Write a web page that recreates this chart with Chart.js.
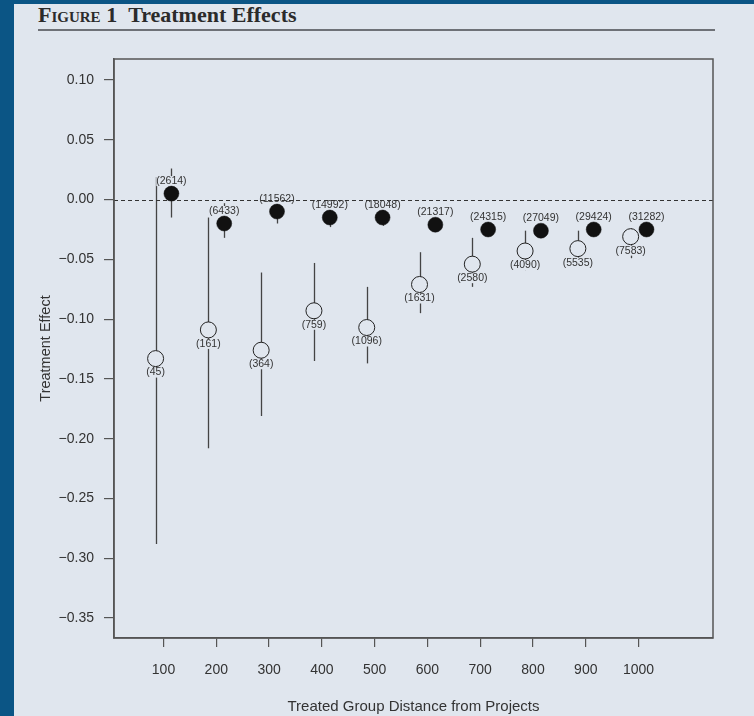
<!DOCTYPE html>
<html>
<head>
<meta charset="utf-8">
<script src="https://cdn.jsdelivr.net/npm/chart.js@4.4.1/dist/chart.umd.min.js"></script>
<style>
  html, body { margin: 0; padding: 0; }
  body { width: 754px; height: 716px; background: #0b5585; position: relative; overflow: hidden; }
  #panel { position: absolute; left: 14px; top: 4px; right: 0; bottom: 0; background: #e0e6ee; }
  #title { position: absolute; left: 38px; top: 2px; font-family: "Liberation Serif", "Times New Roman", serif; font-weight: bold; font-size: 22px; color: #2b2b2b; white-space: nowrap; }
  #title .sc { font-variant: small-caps; }
  #rule { position: absolute; left: 38px; top: 29px; width: 677px; height: 2px; background: #6e7177; }
  #wrap { position: absolute; left: 0; top: 0; width: 754px; height: 716px; }
</style>
</head>
<body>
<div id="panel"></div>
<div id="title"><span class="sc">Figure</span> 1&nbsp;&nbsp;Treatment Effects</div>
<div id="rule"></div>
<div id="wrap"><canvas id="effects" width="754" height="716"></canvas></div>
<script>
var distances = [100, 200, 300, 400, 500, 600, 700, 800, 900, 1000];

// open circles (small treated groups)
var openEffect = [-0.133, -0.109, -0.126, -0.093, -0.107, -0.071, -0.054, -0.043, -0.041, -0.031];
var openLow = [-0.288, -0.208, -0.181, -0.135, -0.137, -0.095, -0.073, -0.059, -0.056, -0.049];
var openHigh = [0.019, -0.015, -0.061, -0.053, -0.073, -0.044, -0.032, -0.026, -0.026, -0.024];
var openN = ['45', '161', '364', '759', '1096', '1631', '2580', '4090', '5535', '7583'];

// filled circles
var filledEffect = [0.005, -0.020, -0.010, -0.015, -0.015, -0.021, -0.025, -0.026, -0.025, -0.025];
var filledLow = [-0.015, -0.032, -0.020, -0.023, -0.022, -0.027, -0.030, -0.031, -0.030, -0.030];
var filledHigh = [0.026, -0.003, -0.002, -0.004, -0.004, -0.015, -0.019, -0.021, -0.020, -0.020];
var filledN = ['2614', '6433', '11562', '14992', '18048', '21317', '24315', '27049', '29424', '31282'];

var yTicks = [0.10, 0.05, 0.00, -0.05, -0.10, -0.15, -0.20, -0.25, -0.30, -0.35];

var panelColor = '#e0e6ee';
var dodge = 15;

Chart.defaults.font.family = '"Liberation Sans", Arial, sans-serif';
Chart.defaults.color = '#333';

var openPts = distances.map(function(d, i) { return {x: d - dodge, y: openEffect[i]}; });
var filledPts = distances.map(function(d, i) { return {x: d + dodge, y: filledEffect[i]}; });

var extras = {
    id: 'extras',
    beforeDatasetsDraw: function(chart) {
        var ctx = chart.ctx, xs = chart.scales.x, ys = chart.scales.y, area = chart.chartArea;
        ctx.save();
        // confidence bars
        ctx.strokeStyle = '#444';
        ctx.lineWidth = 1.3;
        function bar(x, lo, hi) {
            var px = Math.round(xs.getPixelForValue(x)) + 0.5;
            ctx.beginPath();
            ctx.moveTo(px, ys.getPixelForValue(hi));
            ctx.lineTo(px, ys.getPixelForValue(lo));
            ctx.stroke();
        }
        distances.forEach(function(d, i) {
            bar(d - dodge, openLow[i], openHigh[i]);
            bar(d + dodge, filledLow[i], filledHigh[i]);
        });

        // count labels with a gap cut out of the bars
        ctx.font = '10.5px "Liberation Sans", Arial, sans-serif';
        ctx.textAlign = 'center';
        ctx.textBaseline = 'middle';
        var labels = [];
        distances.forEach(function(d, i) {
            labels.push({x: xs.getPixelForValue(d - dodge), y: ys.getPixelForValue(openEffect[i]) + 14, t: '(' + openN[i] + ')'});
            labels.push({x: xs.getPixelForValue(d + dodge), y: ys.getPixelForValue(filledEffect[i]) - 12.5, t: '(' + filledN[i] + ')'});
        });
        ctx.fillStyle = panelColor;
        labels.forEach(function(l) {
            var w = ctx.measureText(l.t).width;
            ctx.fillRect(l.x - w / 2, l.y - 5, w, 10);
        });

        // zero line
        var y0 = Math.round(ys.getPixelForValue(0)) + 0.5;
        ctx.strokeStyle = '#333';
        ctx.lineWidth = 1;
        ctx.setLineDash([4, 3]);
        ctx.beginPath();
        ctx.moveTo(area.left, y0);
        ctx.lineTo(area.right, y0);
        ctx.stroke();
        ctx.setLineDash([]);

        ctx.fillStyle = '#333';
        labels.forEach(function(l) { ctx.fillText(l.t, l.x, l.y); });
        ctx.restore();
    },
    afterDraw: function(chart) {
        var ctx = chart.ctx, a = chart.chartArea;
        ctx.save();
        ctx.strokeStyle = '#555';
        ctx.lineWidth = 1.5;
        ctx.strokeRect(a.left, a.top, a.right - a.left, a.bottom - a.top);
        ctx.restore();
    }
};

var chart = new Chart(document.getElementById('effects'), {
    type: 'scatter',
    data: {
        datasets: [{
            data: openPts,
            pointStyle: 'circle',
            pointRadius: 8,
            pointBackgroundColor: panelColor,
            pointBorderColor: '#222',
            pointBorderWidth: 1
        }, {
            data: filledPts,
            pointStyle: 'circle',
            pointRadius: 7.5,
            pointBackgroundColor: '#111',
            pointBorderColor: '#111',
            pointBorderWidth: 0.5
        }]
    },
    options: {
        responsive: false,
        animation: false,
        events: [],
        layout: { padding: { top: 59, right: 41, bottom: 0, left: 0 } },
        plugins: { legend: { display: false }, tooltip: { enabled: false } },
        scales: {
            x: {
                type: 'linear',
                min: 6.2,
                max: 1141,
                afterBuildTicks: function(s) { s.ticks = distances.map(function(v) { return {value: v}; }); },
                afterFit: function(s) { s.height = 78; },
                border: { display: true, color: '#555', width: 1.5 },
                grid: { drawOnChartArea: false, drawTicks: true, tickLength: 9, color: '#555', lineWidth: 1.2 },
                ticks: {
                    padding: 15, autoSkip: false, maxRotation: 0, color: '#333',
                    font: { size: 14 },
                    callback: function(v) { return String(v); }
                },
                title: {
                    display: true, text: 'Treated Group Distance from Projects', color: '#333',
                    font: { size: 15 }, padding: { top: 0, bottom: 0 }
                }
            },
            y: {
                type: 'linear',
                min: -0.3667,
                max: 0.1176,
                afterBuildTicks: function(s) { s.ticks = yTicks.map(function(v) { return {value: v}; }); },
                afterFit: function(s) { s.width = 114; },
                border: { display: true, color: '#555', width: 1.5 },
                grid: { drawOnChartArea: false, drawTicks: true, tickLength: 10, color: '#555', lineWidth: 1.2 },
                ticks: {
                    padding: 10, autoSkip: false, color: '#333',
                    font: { size: 14 },
                    callback: function(v) { return (v < -1e-9 ? '\u2212' : '') + Math.abs(v).toFixed(2); }
                },
                title: {
                    display: true, text: 'Treatment Effect', color: '#333',
                    font: { size: 14.5 }, padding: { top: 37, bottom: 0 }
                }
            }
        }
    },
    plugins: [extras]
});
</script>
</body>
</html>
